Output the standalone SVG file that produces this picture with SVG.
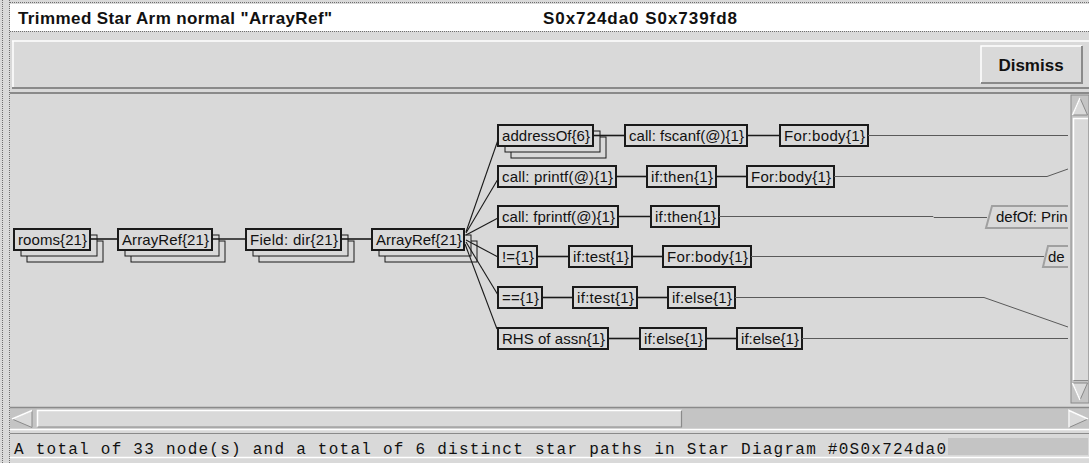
<svg xmlns="http://www.w3.org/2000/svg" width="1089" height="463" viewBox="0 0 1089 463">
<style>
.box{fill:#d9d9d9;stroke:#1a1a1a;stroke-width:2}
.sh{fill:#d9d9d9;stroke:#1a1a1a;stroke-width:1}
.lbl{font-family:"Liberation Sans",Arial,sans-serif;font-size:15px;fill:#111}
.ghost{fill:#d9d9d9;stroke:#a0a0a0;stroke-width:2}
.c{stroke:#1a1a1a;stroke-width:1.6;fill:none}
.f{stroke:#1a1a1a;stroke-width:1.1;fill:none}
.far{stroke:#5a5a5a;stroke-width:1;fill:none}
.dot{stroke:#6e6e6e;stroke-width:1;stroke-dasharray:1 1;fill:none}
.hi{stroke:#ffffff;stroke-width:1.5;fill:none}
.lo{stroke:#8a8a8a;stroke-width:2;fill:none}
.ttl{font-family:"Liberation Sans",Arial,sans-serif;font-size:17px;font-weight:bold;fill:#111}
</style>
<defs>
<clipPath id="cv"><rect x="10" y="95" width="1058" height="310"/></clipPath>
</defs>
<rect x="0" y="0" width="1089" height="463" fill="#d9d9d9"/>
<!-- frame -->
<line class="dot" x1="2.5" y1="0" x2="2.5" y2="463"/>
<line class="dot" x1="9.5" y1="0" x2="9.5" y2="463"/>
<!-- title bar -->
<rect x="10" y="4" width="1079" height="27" fill="#ffffff"/>
<line class="dot" x1="10" y1="2.5" x2="1089" y2="2.5"/>
<line class="dot" x1="10" y1="31.5" x2="1089" y2="31.5"/>
<text class="ttl" x="18" y="23.5" textLength="314" lengthAdjust="spacing">Trimmed Star Arm normal "ArrayRef"</text>
<text class="ttl" x="543" y="23.5" textLength="194" lengthAdjust="spacing">S0x724da0 S0x739fd8</text>
<!-- toolbar -->
<rect x="12" y="40" width="1077" height="49" fill="#d9d9d9"/>
<line class="hi" x1="12" y1="41" x2="1089" y2="41"/>
<line class="hi" x1="13" y1="41" x2="13" y2="88"/>
<line class="lo" x1="12" y1="88" x2="1089" y2="88"/>
<g id="dismiss">
<rect x="980" y="45" width="103" height="39" fill="#d9d9d9"/>
<polyline class="hi" points="981,83 981,46 1082,46"/>
<polyline class="lo" points="981,83 1082,83 1082,46"/>
<text x="1031" y="71" text-anchor="middle" font-family="'Liberation Sans',Arial,sans-serif" font-size="17" font-weight="bold" fill="#111">Dismiss</text>
</g>
<!-- canvas -->
<line x1="10" y1="93" x2="1089" y2="93" stroke="#8a8a8a" stroke-width="2"/>
<g clip-path="url(#cv)">
<g id="n-rooms">
<rect class="sh" x="27" y="241" width="76" height="21"/>
<rect class="sh" x="21" y="235" width="76" height="21"/>
<rect class="box" x="14" y="229" width="76" height="21"/>
<text class="lbl" x="18" y="245" textLength="69" lengthAdjust="spacing">rooms{21}</text>
</g>
<g id="n-arrayref1">
<rect class="sh" x="131" y="241" width="94" height="21"/>
<rect class="sh" x="125" y="235" width="94" height="21"/>
<rect class="box" x="118" y="229" width="94" height="21"/>
<text class="lbl" x="122" y="245" textLength="87" lengthAdjust="spacing">ArrayRef{21}</text>
</g>
<g id="n-field">
<rect class="sh" x="259" y="241" width="95" height="21"/>
<rect class="sh" x="253" y="235" width="95" height="21"/>
<rect class="box" x="246" y="229" width="95" height="21"/>
<text class="lbl" x="250" y="245" textLength="88" lengthAdjust="spacing">Field: dir{21}</text>
</g>
<g id="n-arrayref2">
<rect class="sh" x="385" y="241" width="92" height="21"/>
<rect class="sh" x="379" y="235" width="92" height="21"/>
<rect class="box" x="372" y="229" width="92" height="21"/>
<text class="lbl" x="376" y="245" textLength="86" lengthAdjust="spacing">ArrayRef{21}</text>
</g>
<g id="n-addressof">
<rect class="sh" x="511" y="137" width="95" height="21"/>
<rect class="sh" x="505" y="131" width="95" height="21"/>
<rect class="box" x="498" y="125" width="95" height="21"/>
<text class="lbl" x="502" y="141" textLength="88" lengthAdjust="spacing">addressOf{6}</text>
</g>
<g id="n-fscanf">
<rect class="box" x="625" y="125" width="122" height="21"/>
<text class="lbl" x="629" y="141" textLength="115" lengthAdjust="spacing">call: fscanf(@){1}</text>
</g>
<g id="n-forbody1">
<rect class="box" x="780" y="125" width="88" height="21"/>
<text class="lbl" x="784" y="141" textLength="81" lengthAdjust="spacing">For:body{1}</text>
</g>
<g id="n-printf">
<rect class="box" x="498" y="166" width="118" height="21"/>
<text class="lbl" x="502" y="182" textLength="111" lengthAdjust="spacing">call: printf(@){1}</text>
</g>
<g id="n-ifthen1">
<rect class="box" x="647" y="166" width="69" height="21"/>
<text class="lbl" x="651" y="182" textLength="62" lengthAdjust="spacing">if:then{1}</text>
</g>
<g id="n-forbody2">
<rect class="box" x="747" y="166" width="87" height="21"/>
<text class="lbl" x="751" y="182" textLength="80" lengthAdjust="spacing">For:body{1}</text>
</g>
<g id="n-fprintf">
<rect class="box" x="498" y="206" width="120" height="21"/>
<text class="lbl" x="502" y="222" textLength="113" lengthAdjust="spacing">call: fprintf(@){1}</text>
</g>
<g id="n-ifthen2">
<rect class="box" x="651" y="206" width="68" height="21"/>
<text class="lbl" x="655" y="222" textLength="61" lengthAdjust="spacing">if:then{1}</text>
</g>
<g id="n-defof1">
<polygon class="ghost" points="992,206 1075,206 1075,228 986,228"/>
<text class="lbl" x="996" y="222">defOf: Prin</text>
</g>
<g id="n-ne">
<rect class="box" x="498" y="246" width="39" height="21"/>
<text class="lbl" x="502" y="262" textLength="32" lengthAdjust="spacing">!={1}</text>
</g>
<g id="n-iftest1">
<rect class="box" x="569" y="246" width="63" height="21"/>
<text class="lbl" x="573" y="262" textLength="56" lengthAdjust="spacing">if:test{1}</text>
</g>
<g id="n-forbody3">
<rect class="box" x="663" y="246" width="88" height="21"/>
<text class="lbl" x="667" y="262" textLength="81" lengthAdjust="spacing">For:body{1}</text>
</g>
<g id="n-defof2">
<polygon class="ghost" points="1048,246 1075,246 1075,267 1043,267"/>
<text class="lbl" x="1048" y="262">de</text>
</g>
<g id="n-eq">
<rect class="box" x="498" y="287" width="44" height="21"/>
<text class="lbl" x="502" y="303" textLength="37" lengthAdjust="spacing">=={1}</text>
</g>
<g id="n-iftest2">
<rect class="box" x="573" y="287" width="64" height="21"/>
<text class="lbl" x="577" y="303" textLength="57" lengthAdjust="spacing">if:test{1}</text>
</g>
<g id="n-ifelse1">
<rect class="box" x="668" y="287" width="67" height="21"/>
<text class="lbl" x="672" y="303" textLength="60" lengthAdjust="spacing">if:else{1}</text>
</g>
<g id="n-rhs">
<rect class="box" x="498" y="328" width="110" height="21"/>
<text class="lbl" x="502" y="344" textLength="103" lengthAdjust="spacing">RHS of assn{1}</text>
</g>
<g id="n-ifelse2">
<rect class="box" x="640" y="328" width="66" height="21"/>
<text class="lbl" x="644" y="344" textLength="59" lengthAdjust="spacing">if:else{1}</text>
</g>
<g id="n-ifelse3">
<rect class="box" x="737" y="328" width="65" height="21"/>
<text class="lbl" x="741" y="344" textLength="58" lengthAdjust="spacing">if:else{1}</text>
</g>
<g id="connectors">
<line class="c" x1="90" y1="239" x2="118" y2="239"/>
<line class="c" x1="212" y1="239" x2="246" y2="239"/>
<line class="c" x1="341" y1="239" x2="372" y2="239"/>
<line class="f" x1="466" y1="232" x2="498" y2="140"/>
<line class="f" x1="466" y1="233" x2="498" y2="179"/>
<line class="f" x1="466" y1="235" x2="498" y2="218"/>
<line class="f" x1="466" y1="240" x2="498" y2="257"/>
<line class="f" x1="466" y1="242" x2="498" y2="295"/>
<line class="f" x1="465" y1="244" x2="497" y2="329"/>
<line class="c" x1="593" y1="135.5" x2="625" y2="135.5"/>
<line class="c" x1="747" y1="135.5" x2="780" y2="135.5"/>
<line class="far" x1="868" y1="135.5" x2="1068" y2="135.5"/>
<line class="c" x1="616" y1="176.5" x2="647" y2="176.5"/>
<line class="c" x1="716" y1="176.5" x2="747" y2="176.5"/>
<polyline class="far" points="834,176.5 1047,176.5 1068,169"/>
<line class="c" x1="618" y1="216.5" x2="651" y2="216.5"/>
<polyline class="far" points="719,216.5 933,216.5 934,217.5 987,217.5"/>
<line class="c" x1="537" y1="256.5" x2="569" y2="256.5"/>
<line class="c" x1="632" y1="256.5" x2="663" y2="256.5"/>
<line class="far" x1="751" y1="256.5" x2="1044" y2="256.5"/>
<line class="c" x1="542" y1="297.5" x2="573" y2="297.5"/>
<line class="c" x1="637" y1="297.5" x2="668" y2="297.5"/>
<polyline class="far" points="735,297.5 984,297.5 1068,327"/>
<line class="c" x1="608" y1="338.5" x2="640" y2="338.5"/>
<line class="c" x1="706" y1="338.5" x2="737" y2="338.5"/>
<line class="far" x1="802" y1="338.5" x2="1068" y2="338.5"/>
</g>
</g>
<!-- vertical scrollbar -->
<g id="vscroll">
<rect x="1071" y="95" width="18" height="308" fill="#c4c4c4" stroke="#8a8a8a" stroke-width="1"/>
<polygon points="1072.5,115 1080,98 1087.5,115" fill="#d9d9d9" stroke="#8a8a8a" stroke-width="1"/>
<polyline class="hi" points="1072.5,115 1080,98" />
<rect x="1073" y="118" width="15" height="263" fill="#d9d9d9"/>
<polyline class="hi" points="1073.5,380 1073.5,118.5 1088,118.5"/>
<polyline points="1073.5,380.5 1088,380.5" stroke="#8a8a8a" stroke-width="1" fill="none"/>
<polygon points="1072.5,383 1087.5,383 1080,400" fill="#d9d9d9" stroke="#8a8a8a" stroke-width="1"/>
<polyline class="hi" points="1072.5,383 1080,400"/>
</g>
<!-- horizontal scrollbar -->
<g id="hscroll">
<rect x="10" y="408" width="1079" height="21" fill="#c4c4c4"/>
<line x1="10" y1="407.5" x2="1089" y2="407.5" stroke="#8a8a8a" stroke-width="1.5"/>
<polygon points="12,419 32,410.5 32,427.5" fill="#d9d9d9" stroke="#8a8a8a" stroke-width="1"/>
<polyline class="hi" points="12,419 32,410.5"/>
<rect x="37" y="410" width="645" height="17" fill="#d9d9d9"/>
<polyline class="hi" points="37.5,427 37.5,410.5 682,410.5"/>
<polyline points="37.5,427 681.5,427 681.5,410.5" stroke="#8a8a8a" stroke-width="1.2" fill="none"/>
<polygon points="1069,410.5 1088,419 1069,427.5" fill="#d9d9d9" stroke="#8a8a8a" stroke-width="1"/>
<polyline class="hi" points="1069,427.5 1069,410.5 1088,419"/>
<line class="hi" x1="10" y1="429.5" x2="1089" y2="429.5"/>
</g>
<!-- status bar -->
<g id="status">
<rect x="10" y="433" width="1079" height="24" fill="#d9d9d9"/>
<line x1="10" y1="433.5" x2="1089" y2="433.5" stroke="#8a8a8a" stroke-width="1.2"/>
<line class="hi" x1="10" y1="457.5" x2="1089" y2="457.5"/>
<text x="14" y="454" font-family="'Liberation Mono','Courier New',monospace" font-size="16" fill="#111" textLength="932" lengthAdjust="spacing">A total of 33 node(s) and a total of 6 distinct star paths in Star Diagram #0S0x724da0</text>
<rect x="948" y="438" width="140" height="17" fill="#c4c4c4"/>
</g>
</svg>
